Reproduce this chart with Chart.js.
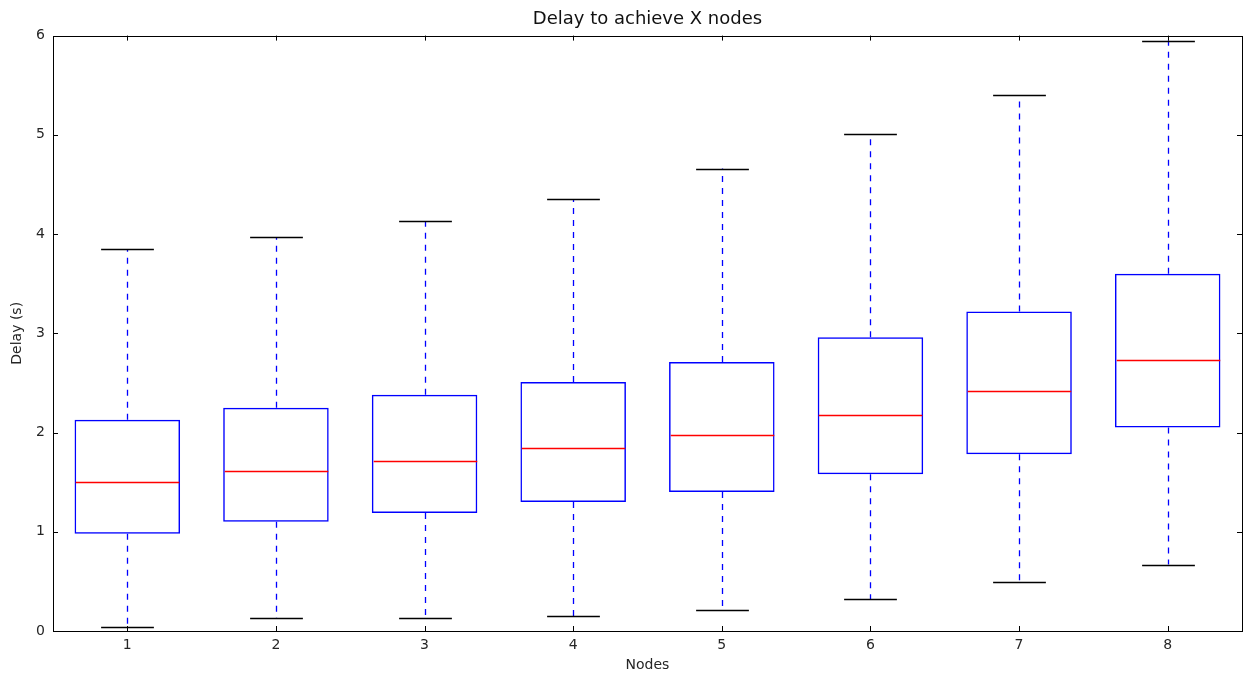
<!DOCTYPE html>
<html>
<head>
<meta charset="utf-8">
<title>Delay to achieve X nodes</title>
<script src="https://cdn.jsdelivr.net/npm/chart.js@4"></script>
<style>
  html, body { margin: 0; padding: 0; background: #fff; }
  #wrap { width: 1251px; height: 678px; position: relative; }
</style>
</head>
<body>
<div id="wrap"><canvas id="delay-chart"></canvas></div>
<script>
// Box plot stats per node count
const nodes = ['1', '2', '3', '4', '5', '6', '7', '8'];
const whiskerLow  = [0.04, 0.13, 0.13, 0.15, 0.21, 0.32, 0.49, 0.67];
const q1          = [0.98, 1.10, 1.19, 1.30, 1.40, 1.58, 1.78, 2.05];
const medians     = [1.50, 1.61, 1.71, 1.84, 1.98, 2.18, 2.42, 2.73];
const q3          = [2.13, 2.25, 2.38, 2.51, 2.71, 2.96, 3.22, 3.60];
const whiskerHigh = [3.85, 3.97, 4.13, 4.35, 4.66, 5.01, 5.40, 5.95];
const yTicks = [0, 1, 2, 3, 4, 5, 6];

const textColor = '#262626';
const fontFamily = '"DejaVu Sans", sans-serif';

// whiskers, caps, medians, frame + inward ticks
const boxExtras = {
  id: 'boxExtras',
  afterDatasetsDraw(chart) {
    const { ctx, chartArea: a, scales: { x, y } } = chart;
    const meta = chart.getDatasetMeta(0);
    ctx.save();
    nodes.forEach((n, i) => {
      const cx = Math.round(x.getPixelForValue(i)) + 0.5;
      const bar = meta.data[i];
      const halfBox = bar.width / 2;
      const halfCap = halfBox / 2;
      const yLo = y.getPixelForValue(whiskerLow[i]);
      const yQ1 = y.getPixelForValue(q1[i]);
      const yQ3 = y.getPixelForValue(q3[i]);
      const yHi = y.getPixelForValue(whiskerHigh[i]);
      const yMed = Math.round(y.getPixelForValue(medians[i])) + 0.5;

      // dashed whiskers
      ctx.strokeStyle = '#0000ff';
      ctx.lineWidth = 1.3;
      ctx.setLineDash([6, 6]);
      ctx.beginPath();
      ctx.moveTo(cx, yQ1); ctx.lineTo(cx, yLo);
      ctx.moveTo(cx, yQ3); ctx.lineTo(cx, yHi);
      ctx.stroke();
      ctx.setLineDash([]);

      // caps
      ctx.strokeStyle = '#000';
      ctx.lineWidth = 1.5;
      ctx.beginPath();
      ctx.moveTo(cx - halfCap, Math.round(yLo) + 0.5); ctx.lineTo(cx + halfCap, Math.round(yLo) + 0.5);
      ctx.moveTo(cx - halfCap, Math.round(yHi) + 0.5); ctx.lineTo(cx + halfCap, Math.round(yHi) + 0.5);
      ctx.stroke();

      // median
      ctx.strokeStyle = '#ff0000';
      ctx.beginPath();
      ctx.moveTo(cx - halfBox + 1, yMed); ctx.lineTo(cx + halfBox - 1, yMed);
      ctx.stroke();
    });

    // frame
    ctx.strokeStyle = '#000';
    ctx.lineWidth = 1;
    ctx.strokeRect(Math.round(a.left) + 0.5, Math.round(a.top) + 0.5,
      Math.round(a.right - a.left), Math.round(a.bottom - a.top));

    // inward ticks on all four sides
    const tl = 5;
    ctx.beginPath();
    nodes.forEach((n, i) => {
      const px = Math.round(x.getPixelForValue(i)) + 0.5;
      ctx.moveTo(px, a.bottom); ctx.lineTo(px, a.bottom - tl);
      ctx.moveTo(px, a.top); ctx.lineTo(px, a.top + tl);
    });
    yTicks.forEach(v => {
      const py = Math.round(y.getPixelForValue(v)) + 0.5;
      ctx.moveTo(a.left, py); ctx.lineTo(a.left + tl, py);
      ctx.moveTo(a.right, py); ctx.lineTo(a.right - tl, py);
    });
    ctx.stroke();
    ctx.restore();
  }
};

const el = document.getElementById('delay-chart');
new Chart(el, {
  type: 'bar',
  data: {
    labels: nodes,
    datasets: [{
      label: 'IQR',
      data: q1.map((v, i) => [v, q3[i]]),
      backgroundColor: 'rgba(0,0,0,0)',
      borderColor: '#0000ff',
      borderWidth: 1.5,
      borderSkipped: false,
      categoryPercentage: 1,
      barPercentage: 0.71
    }]
  },
  options: {
    responsive: true,
    maintainAspectRatio: false,
    animation: false,
    layout: { padding: { right: 9 } },
    plugins: {
      legend: { display: false },
      tooltip: { enabled: false },
      title: {
        display: true,
        text: 'Delay to achieve X nodes',
        color: '#111',
        fullSize: false,
        font: { family: fontFamily, size: 18, weight: 'normal' },
        padding: { top: 9, bottom: 5 }
      }
    },
    scales: {
      x: {
        offset: true,
        grid: { display: false, drawTicks: false },
        border: { display: false },
        ticks: { color: textColor, padding: 6, font: { family: fontFamily, size: 14 } },
        title: {
          display: true, text: 'Nodes', color: textColor,
          font: { family: fontFamily, size: 14 },
          padding: { top: 0, bottom: 4 }
        },
        afterFit: s => { s.height = 47; }
      },
      y: {
        min: 0,
        max: 6,
        grid: { display: false, drawTicks: false },
        border: { display: false },
        ticks: { stepSize: 1, color: textColor, padding: 8, font: { family: fontFamily, size: 14 } },
        title: {
          display: true, text: 'Delay (s)', color: textColor,
          font: { family: fontFamily, size: 14 },
          padding: { top: 9, bottom: 0 }
        },
        afterFit: s => { s.width = 53; }
      }
    }
  },
  plugins: [boxExtras]
});
</script>
</body>
</html>
